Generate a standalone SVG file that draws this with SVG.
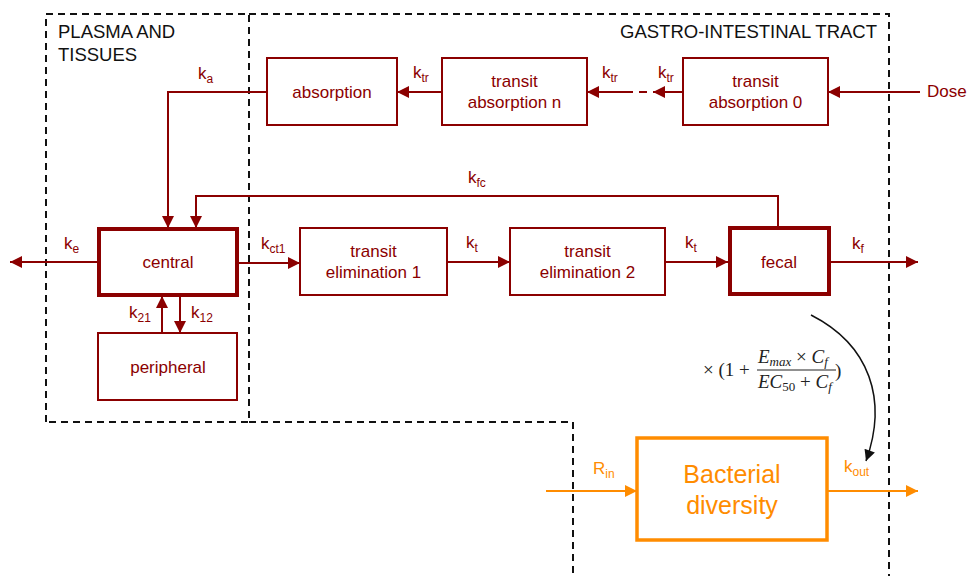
<svg xmlns="http://www.w3.org/2000/svg" width="970" height="576" viewBox="0 0 970 576">
<defs>
<style>
.t{font-family:"Liberation Sans",Arial,sans-serif;fill:#8b0000;font-size:17px;text-anchor:middle}
.h{font-family:"Liberation Sans",Arial,sans-serif;fill:#111;font-size:18.5px}
.k{font-family:"Liberation Sans",Arial,sans-serif;fill:#8b0000;font-size:17px}
.ko{font-family:"Liberation Sans",Arial,sans-serif;fill:#ff8c00;font-size:17px}
.s{font-size:12px}
.box{fill:#fff;stroke:#8b0000;stroke-width:2}
.thick{fill:#fff;stroke:#8b0000;stroke-width:4}
.dash{fill:none;stroke:#111;stroke-width:2;stroke-dasharray:7,5}
.c{fill:none;stroke:#8b0000;stroke-width:2}
.co{fill:none;stroke:#ff8c00;stroke-width:2}
.m{font-family:"Liberation Serif","Times New Roman",serif;fill:#222;font-size:19px}
.ms{font-size:13px}
</style>
<marker id="ar2" viewBox="0 0 10 10" refX="10" refY="5" markerWidth="14" markerHeight="12" orient="auto" markerUnits="userSpaceOnUse"><path d="M0,0 L10,5 L0,10 z" fill="#8b0000"/></marker>
<marker id="ao" viewBox="0 0 10 10" refX="10" refY="5" markerWidth="14" markerHeight="12" orient="auto" markerUnits="userSpaceOnUse"><path d="M0,0 L10,5 L0,10 z" fill="#ff8c00"/></marker>
<marker id="ab" viewBox="0 0 10 10" refX="10" refY="5" markerWidth="12" markerHeight="11" orient="auto" markerUnits="userSpaceOnUse"><path d="M0,0 L10,5 L0,10 z" fill="#111"/></marker>
</defs>
<rect width="970" height="576" fill="#fff"/>

<g id="compartments">
<path class="dash" d="M46,422 L46,14 L249,14 L249,422 Z"/>
<path class="dash" d="M249,14 L889,14 L889,576"/>
<path class="dash" d="M249,422 L573,422 L573,576"/>
<text class="h" x="58" y="38">PLASMA AND</text>
<text class="h" x="58" y="61">TISSUES</text>
<text class="h" x="877" y="38" text-anchor="end">GASTRO-INTESTINAL TRACT</text>
</g>

<g id="connectors">
<path class="c" d="M267,92 L168,92 L168,228" marker-end="url(#ar2)"/>
<path class="c" d="M442,92 L397,92" marker-end="url(#ar2)"/>
<path class="c" d="M625,92 L587,92" marker-end="url(#ar2)"/>
<path class="c" d="M625,92 L653,92" stroke-dasharray="8,6"/>
<path class="c" d="M683,92 L653,92" marker-end="url(#ar2)"/>
<path class="c" d="M920,92 L828,92" marker-end="url(#ar2)"/>
<path class="c" d="M778,226 L778,196 L196,196 L196,228" marker-end="url(#ar2)"/>
<path class="c" d="M98,262 L10,262" marker-end="url(#ar2)"/>
<path class="c" d="M238,263 L300,263" marker-end="url(#ar2)"/>
<path class="c" d="M447,262 L510,262" marker-end="url(#ar2)"/>
<path class="c" d="M665,262 L728,262" marker-end="url(#ar2)"/>
<path class="c" d="M830,262 L918,262" marker-end="url(#ar2)"/>
<path class="c" d="M162,333 L162,296" marker-end="url(#ar2)"/>
<path class="c" d="M180,296 L180,333" marker-end="url(#ar2)"/>
<path class="co" d="M546,491 L637,491" marker-end="url(#ao)"/>
<path class="co" d="M827,491 L918,491" marker-end="url(#ao)"/>
<path fill="none" stroke="#111" stroke-width="1.5" d="M811,315 C870,345 888,400 866,461" marker-end="url(#ab)"/>
<text class="k" x="198" y="79">k<tspan class="s" dy="4">a</tspan></text>
<text class="k" x="413" y="78">k<tspan class="s" dy="4">tr</tspan></text>
<text class="k" x="602" y="78">k<tspan class="s" dy="4">tr</tspan></text>
<text class="k" x="658" y="78">k<tspan class="s" dy="4">tr</tspan></text>
<text class="k" x="468" y="183">k<tspan class="s" dy="4">fc</tspan></text>
<text class="k" x="64" y="249">k<tspan class="s" dy="4">e</tspan></text>
<text class="k" x="261" y="249">k<tspan class="s" dy="4">ct1</tspan></text>
<text class="k" x="466" y="248">k<tspan class="s" dy="4">t</tspan></text>
<text class="k" x="685" y="248">k<tspan class="s" dy="4">t</tspan></text>
<text class="k" x="852" y="249">k<tspan class="s" dy="4">f</tspan></text>
<text class="k" x="129" y="318">k<tspan class="s" dy="4">21</tspan></text>
<text class="k" x="191" y="318">k<tspan class="s" dy="4">12</tspan></text>
<text class="ko" x="593" y="474">R<tspan class="s" dy="4">in</tspan></text>
<text class="ko" x="844" y="472">k<tspan class="s" dy="4">out</tspan></text>
<g id="formula">
<text class="m" x="703" y="376">× (1 +</text>
<text class="m" x="758" y="363" font-style="italic">E<tspan class="ms" dy="3">max</tspan><tspan dy="-3" font-style="normal"> × </tspan>C<tspan class="ms" dy="3">f</tspan></text>
<line x1="757" y1="370" x2="836" y2="370" stroke="#222" stroke-width="1"/>
<text class="m" x="758" y="388" font-style="italic">EC<tspan class="ms" dy="3" font-style="normal">50</tspan><tspan dy="-3" font-style="normal"> + </tspan>C<tspan class="ms" dy="3">f</tspan></text>
<text class="m" x="835" y="377">)</text>
</g>
</g>

<g id="absorption"><rect class="box" x="267" y="58" width="130" height="67"/><text class="t" x="332" y="98">absorption</text></g>
<g id="transit-absorption-n"><rect class="box" x="442" y="58" width="145" height="67"/><text class="t" x="514.5" y="87">transit</text><text class="t" x="514.5" y="108">absorption n</text></g>
<g id="transit-absorption-0"><rect class="box" x="683" y="58" width="145" height="67"/><text class="t" x="755.5" y="87">transit</text><text class="t" x="755.5" y="108">absorption 0</text></g>
<g id="dose"><text class="k" x="927" y="97">Dose</text></g>
<g id="central"><rect class="thick" x="99" y="229" width="138" height="66"/><text class="t" x="168" y="268">central</text></g>
<g id="peripheral"><rect class="box" x="98" y="333" width="139" height="67"/><text class="t" x="168" y="373">peripheral</text></g>
<g id="transit-elimination-1"><rect class="box" x="300" y="228" width="147" height="67"/><text class="t" x="373.5" y="257">transit</text><text class="t" x="373.5" y="278">elimination 1</text></g>
<g id="transit-elimination-2"><rect class="box" x="510" y="228" width="155" height="67"/><text class="t" x="587.5" y="257">transit</text><text class="t" x="587.5" y="278">elimination 2</text></g>
<g id="fecal"><rect class="thick" x="730" y="228" width="99" height="66"/><text class="t" x="779" y="268">fecal</text></g>
<g id="bacterial-diversity"><rect fill="#fff" stroke="#ff8c00" stroke-width="3.5" x="637" y="438" width="190" height="102"/><text class="t" style="fill:#ff8c00;font-size:25px" x="732" y="483">Bacterial</text><text class="t" style="fill:#ff8c00;font-size:25px" x="732" y="514">diversity</text></g>
</svg>
